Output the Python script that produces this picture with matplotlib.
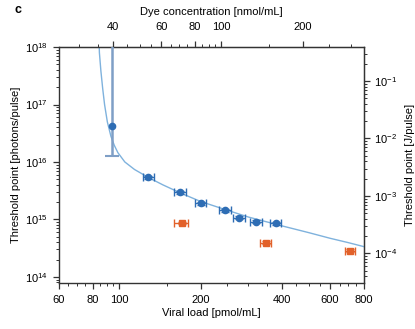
import numpy as np
import matplotlib
matplotlib.use("Agg")
import matplotlib.pyplot as plt
from matplotlib.ticker import FixedLocator, FuncFormatter, NullFormatter

plt.rcParams['font.family'] = ['Liberation Sans', 'DejaVu Sans']
plt.rcParams['font.size'] = 8

# blue series: viral load [pmol/mL] vs threshold [photons/pulse]
blue_v = [128, 168, 200, 246, 277, 320, 378]
blue_T = [5.4e15, 2.95e15, 1.91e15, 1.44e15, 1.08e15, 9.2e14, 8.5e14]
blue_xerr = [6, 9, 10, 13, 15, 16, 19]
blue_yerr = [3e14, 1.6e14, 1.0e14, 8e13, 6e13, 5e13, 4.5e13]

# first blue point, large error bar
first_v = 94
first_T = 4.3e16
first_lo = 3.03e16
first_hi = 5e18

# orange series
orange_v = [170, 348, 711]
orange_T = [8.6e14, 3.95e14, 2.86e14]
orange_xerr = [10, 16, 32]
orange_yerr = [4e13, 2e13, 1.5e13]

# fitted curve
curve_v = [84.3, 84.6, 85.7, 87.0, 88.4, 90.5, 93.3, 96, 99, 105, 114, 128, 145,
           168, 200, 250, 300, 400, 500, 600, 700, 800]
curve_T = [1.5e18, 8e17, 3.8e17, 1.9e17, 1.0e17, 5.0e16, 2.8e16, 1.95e16, 1.45e16,
           1.0e16, 7.4e15, 5.4e15, 4.0e15, 2.9e15, 2.05e15, 1.45e15, 1.1e15,
           7.7e14, 5.9e14, 4.7e14, 3.95e14, 3.36e14]

photon_J = 3.9e-19     # J per photon
dye_per_viral = 0.42   # nmol dye per pmol viral

bottom_major = [60, 80, 100, 200, 400, 600, 800]
bottom_minor = [65, 70, 75, 85, 90, 95, 150, 250, 300, 350, 450, 500, 550, 650, 700, 750]
top_major = [40, 60, 80, 100, 200]
top_minor = [30, 35, 45, 50, 55, 65, 70, 75, 85, 90, 95, 150, 250, 300]

blue = '#2e6db4'
orange = '#e2612a'
curve_c = '#7fb2dd'
err_c = '#7f9fc6'
spine_c = '#333333'

fig = plt.figure(figsize=(4.15, 3.29), dpi=100)
ax = fig.add_axes([0.142, 0.140, 0.735, 0.717])

ax.plot(curve_v, curve_T, color=curve_c, lw=1.0, zorder=1)

ax.errorbar([first_v], [first_T], yerr=[[first_lo], [first_hi]], fmt='o',
            color=blue, ms=4.5, ecolor=err_c, elinewidth=1.8, capsize=5,
            capthick=1.5, zorder=3)
ax.errorbar(blue_v, blue_T, xerr=blue_xerr, yerr=blue_yerr, fmt='o', color=blue,
            ms=4.5, ecolor=blue, elinewidth=1.0, capsize=3, capthick=1.0, zorder=3)
ax.errorbar(orange_v, orange_T, xerr=orange_xerr, yerr=orange_yerr, fmt='s',
            color=orange, ms=4, ecolor=orange, elinewidth=1.0, capsize=3,
            capthick=1.0, zorder=3)

ax.set_xscale('log')
ax.set_yscale('log')
ax.set_xlim(60, 800)
ax.set_ylim(7.85e13, 1e18)

ax.xaxis.set_major_locator(FixedLocator(bottom_major))
ax.xaxis.set_minor_locator(FixedLocator(bottom_minor))
ax.xaxis.set_major_formatter(FuncFormatter(lambda v, p: f"{v:g}"))
ax.xaxis.set_minor_formatter(NullFormatter())

ax.set_xlabel("Viral load [pmol/mL]", labelpad=2)
ax.set_ylabel("Threshold point [photons/pulse]", labelpad=3)

for s in ax.spines.values():
    s.set_color(spine_c)
    s.set_linewidth(1.0)
ax.tick_params(which='major', length=4, width=0.9, color=spine_c)
ax.tick_params(which='minor', length=2.5, width=0.7, color=spine_c)
ax.tick_params(axis='x', which='major', pad=5)
ax.tick_params(axis='y', which='major', pad=4)

top = ax.secondary_xaxis('top', functions=(lambda v: v * dye_per_viral,
                                           lambda d: d / dye_per_viral))
top.xaxis.set_major_locator(FixedLocator(top_major))
top.xaxis.set_minor_locator(FixedLocator(top_minor))
top.xaxis.set_major_formatter(FuncFormatter(lambda v, p: f"{v:g}"))
top.xaxis.set_minor_formatter(NullFormatter())
top.set_xlabel("Dye concentration [nmol/mL]", labelpad=5)
top.tick_params(which='major', length=4, width=0.9, color=spine_c, pad=7)
top.tick_params(which='minor', length=2.5, width=0.7, color=spine_c)
top.spines['top'].set_color(spine_c)
top.xaxis.get_offset_text().set_visible(False)

right = ax.secondary_yaxis('right', functions=(lambda p: p * photon_J,
                                               lambda j: j / photon_J))
right.set_ylabel("Threshold point [J/pulse]", labelpad=6)
right.tick_params(which='major', length=4, width=0.9, color=spine_c, pad=3)
right.tick_params(which='minor', length=2.5, width=0.7, color=spine_c)
right.spines['right'].set_color(spine_c)
right.yaxis.get_offset_text().set_visible(False)
ax.xaxis.get_offset_text().set_visible(False)
ax.yaxis.get_offset_text().set_visible(False)

fig.text(0.034, 0.97, "c", fontweight='bold', fontsize=9, va='center')

fig.savefig("out.png", dpi=100)
